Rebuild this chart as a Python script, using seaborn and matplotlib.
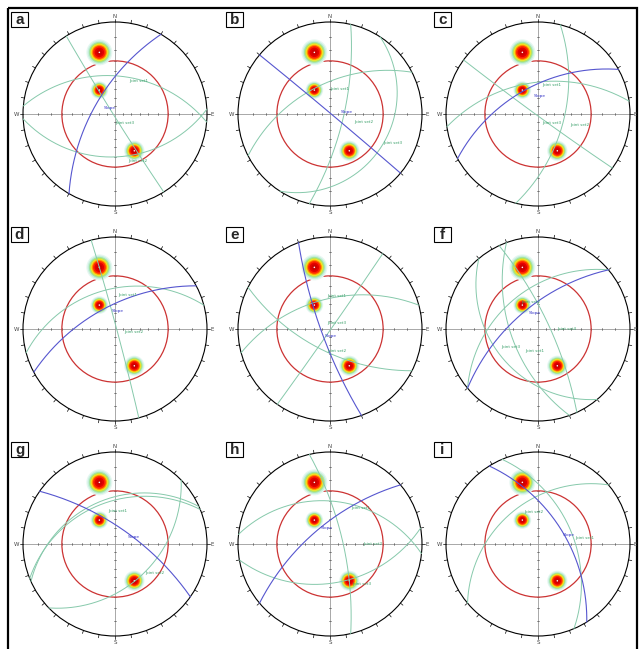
import numpy as np
import seaborn as sns
import matplotlib.pyplot as plt
from matplotlib.patches import Circle, Rectangle

panels = ['a', 'b', 'c', 'd', 'e', 'f', 'g', 'h', 'i']

# slope face (dip direction / dip, degrees)
slope_dd = [300, 40, 331, 332, 250, 320, 35, 320, 58]
slope_dip = [64, 89, 57, 62, 79, 63, 70, 67, 57]

# joint sets for each panel (dip direction / dip, degrees)
joint_dd = [[5, 177, 238], [333, 103, 123], [352, 104, 216], [345, 75],
            [345, 207, 125], [250, 320, 230, 65], [338, 336, 136],
            [6, 77, 170], [67, 320]]
joint_dip = [[45, 40, 88], [54, 73, 23], [52, 58, 88], [43, 88],
             [54, 63, 89], [57, 45, 37, 76], [41, 38, 42],
             [40, 74, 44], [48, 42]]
joint_names = [["Joint set1", "Joint set2", "Joint set3"],
               ["Joint set1", "Joint set2", "Joint set3"],
               ["Joint set1", "Joint set2", "Joint set3"],
               ["Joint set1", "Joint set2"],
               ["Joint set1", "Joint set2", "Joint set3"],
               ["Joint set1", "Joint set2", "Joint set3", "Joint set4"],
               ["Joint set1", "", "Joint set2"],
               ["Joint set1", "Joint set2", "Joint set3"],
               ["Joint set1", "Joint set2"]]

# friction angle (deg) drawn as the red cone
friction = [30, 30, 30, 30, 30, 30, 30, 30, 30]

# pole concentrations (projected position) and relative intensity
pole_x = [-0.17, -0.17, 0.21]
pole_y = [0.67, 0.26, -0.40]
pole_strength = [1.0, 0.68, 0.78]

# ---- layout (pixels) ----
W, H = 639, 649
R = 92
col_x = [115, 330, 538]
row_y = [114, 329, 544]
half = 107

# label anchors in unit-circle coords
slope_lab = [(-0.12, 0.06), (0.12, 0.02), (-0.05, 0.2), (-0.04, 0.2), (-0.06, -0.08),
             (-0.1, 0.17), (0.14, 0.08), (-0.1, 0.17), (0.27, 0.1)]
joint_lab = [[(0.16, 0.36), (0.14, -0.51), (0.0, -0.1)],
             [(0.0, 0.27), (0.26, -0.09), (0.58, -0.32)],
             [(0.05, 0.31), (0.35, -0.12), (0.05, -0.1)],
             [(0.03, 0.37), (0.1, -0.03)],
             [(-0.03, 0.36), (-0.03, -0.24), (-0.03, 0.07)],
             [(-0.14, -0.24), (-0.18, 0.29), (-0.4, -0.2), (0.21, 0.0)],
             [(-0.07, 0.36), (0, 0), (0.33, -0.32)],
             [(0.23, 0.39), (0.36, 0.0), (0.24, -0.43)],
             [(0.41, 0.07), (-0.15, 0.35)]]

blob_layers = [(26, '#e6f7f1'), (23.5, '#c8efdd'), (21, '#a2e4a8'), (19, '#bde352'),
               (17, '#f6e62c'), (15.5, '#ffb400'), (14, '#ff6e00'), (12.5, '#ff2600'),
               (9.5, '#e40000'), (6, '#cc0000')]

joint_col = '#86c9ab'
slope_col = '#5656cf'


def great_circle(dd, dip, n=200):
    # lower hemisphere equal-angle projection of a plane
    d, p = np.radians(dd), np.radians(dip)
    s = np.array([np.sin(d - np.pi / 2), np.cos(d - np.pi / 2), 0.0])
    v = np.array([np.sin(d) * np.cos(p), np.cos(d) * np.cos(p), np.sin(p)])
    t = np.linspace(0, np.pi, n)
    pts = np.outer(np.cos(t), s) + np.outer(np.sin(t), v)
    k = 1 + pts[:, 2]
    return pts[:, 0] / k, pts[:, 1] / k


sns.set_theme(style="white")
plt.rcParams['font.family'] = ['DejaVu Sans']

fig = plt.figure(figsize=(W / 100, H / 100), dpi=100)
bg = fig.add_axes([0, 0, 1, 1])
bg.set_xlim(0, W)
bg.set_ylim(H, 0)
bg.axis('off')
bg.add_patch(Rectangle((7.5, 7.5), 629, 650, fill=False, lw=1.6, ec='black'))

lim = half / R
for i, name in enumerate(panels):
    cx, cy = col_x[i % 3], row_y[i // 3]
    ax = fig.add_axes([(cx - half) / W, 1 - (cy + half) / H, 2 * half / W, 2 * half / H])
    ax.set_xlim(-lim, lim)
    ax.set_ylim(-lim, lim)
    ax.axis('off')
    ax.patch.set_alpha(0)

    # cross axes with dip ticks
    ax.plot([-1, 1], [0, 0], color='#9a9a9a', lw=0.6, zorder=1)
    ax.plot([0, 0], [-1, 1], color='#9a9a9a', lw=0.6, zorder=1)
    for k in range(1, 9):
        r = np.tan(np.radians(5 * k))
        for sgn in (-1, 1):
            ax.plot([sgn * r, sgn * r], [-0.016, 0.016], color='#555555', lw=0.5, zorder=1)
            ax.plot([-0.016, 0.016], [sgn * r, sgn * r], color='#555555', lw=0.5, zorder=1)

    # primitive with 10 deg ticks
    ax.add_patch(Circle((0, 0), 1, fill=False, ec='black', lw=0.8, zorder=2))
    for az in range(0, 360, 10):
        a = np.radians(az)
        ax.plot([np.sin(a), 1.035 * np.sin(a)], [np.cos(a), 1.035 * np.cos(a)],
                color='black', lw=0.5, zorder=2)
    for lab, (tx, ty) in zip('NESW', [(0, 1.06), (1.06, 0), (0, -1.07), (-1.07, 0)]):
        ax.text(tx, ty, lab, fontsize=4, color='#444444', ha='center', va='center')

    # friction cone
    ax.add_patch(Circle((0, 0), np.tan(np.radians(45 - friction[i] / 2)), fill=False,
                        ec='#cc3333', lw=0.9, zorder=3))

    # pole concentrations
    for dia, col in blob_layers:
        sz = [(dia * st * 0.72) ** 2 for st in pole_strength]
        sns.scatterplot(x=pole_x, y=pole_y, s=sz, color=col, edgecolor='none',
                        linewidth=0, ax=ax, zorder=4)
    sns.scatterplot(x=pole_x, y=pole_y, s=1.2, color='white', edgecolor='none', ax=ax, zorder=5)

    # joint sets
    for j, (dd, dp) in enumerate(zip(joint_dd[i], joint_dip[i])):
        gx, gy = great_circle(dd, dp)
        sns.lineplot(x=gx, y=gy, sort=False, estimator=None, color=joint_col,
                     lw=0.7, ax=ax, zorder=6)
        if joint_names[i][j]:
            lx, ly = joint_lab[i][j]
            ax.text(lx, ly, joint_names[i][j], fontsize=3, color='#3aa06a',
                    ha='left', va='center', zorder=8)

    # slope
    gx, gy = great_circle(slope_dd[i], slope_dip[i])
    sns.lineplot(x=gx, y=gy, sort=False, estimator=None, color=slope_col,
                 lw=0.8, ax=ax, zorder=7)
    ax.text(slope_lab[i][0], slope_lab[i][1], "Slope", fontsize=3.2, color='#3838c8',
            ha='left', va='center', zorder=8)

    # panel letter
    bg.add_patch(Rectangle((cx - 104, cy - 102), 17, 15, fill=True, fc='white',
                           ec='black', lw=0.8, zorder=10))
    bg.text(cx - 95.5, cy - 94.2, name, fontsize=11, fontweight='bold',
            family=['Liberation Sans', 'DejaVu Sans'], ha='center', va='center', zorder=11)

fig.savefig('out.png', dpi=100)
